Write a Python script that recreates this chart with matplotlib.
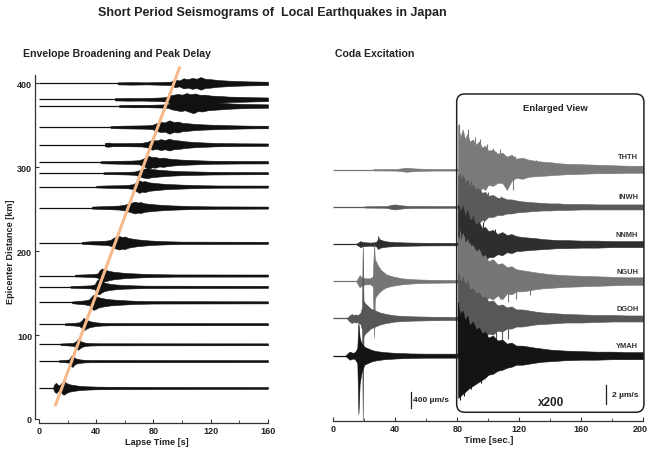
import numpy as np
import matplotlib.pyplot as plt
from matplotlib.patches import FancyBboxPatch
from matplotlib.ticker import MultipleLocator
from matplotlib.transforms import ScaledTranslation

plt.rcParams["font.family"] = ["Liberation Sans", "DejaVu Sans"]
plt.rcParams["font.weight"] = "bold"

W, H = 649, 452  # figure size in px

# ---------------- left panel: envelope broadening ----------------
dist_km = [400, 381, 373, 348, 327, 306, 293, 277, 252, 210,
           171, 157.5, 139, 113, 89, 69, 37]
# envelope knots (lapse time [s], half amplitude [km])
env_t = [
    [55, 65, 75, 85, 92, 95, 98, 101, 104, 107, 110, 113, 116, 120, 125, 130, 138, 146, 153, 160],
    [53, 62, 72, 82, 88, 91, 94, 97, 100, 103, 106, 109, 112, 116, 120, 126, 133, 140, 150, 160],
    [56, 65, 75, 85, 90, 93, 96, 99, 102, 105, 108, 111, 114, 118, 122, 128, 135, 142, 150, 160],
    [50, 58, 66, 74, 79, 82, 85, 88, 91, 94, 97, 100, 104, 108, 114, 120, 128, 136, 148, 160],
    [46, 48, 52, 58, 66, 72, 76, 79, 82, 85, 88, 91, 94, 98, 102, 108, 115, 124, 140, 160],
    [43, 50, 58, 65, 70, 73, 75, 77, 79, 81, 84, 87, 90, 94, 99, 105, 112, 120, 140, 160],
    [45, 55, 62, 67, 70, 72, 74, 76, 78, 81, 84, 88, 92, 97, 103, 110, 120, 135, 160],
    [40, 48, 56, 62, 66, 68, 70, 72, 74, 77, 80, 84, 88, 93, 99, 106, 114, 125, 160],
    [37, 44, 50, 56, 60, 63, 65, 67, 69, 71, 74, 77, 81, 86, 92, 99, 108, 120, 160],
    [30, 36, 42, 47, 50, 52, 54, 56, 58, 60, 62, 65, 68, 72, 77, 83, 90, 100, 160],
    [25, 32, 38, 41, 42.5, 44, 45.5, 47, 49, 52, 56, 61, 67, 74, 82, 95, 160],
    [22, 30, 36, 39, 40.5, 42, 43.5, 45, 47, 50, 54, 59, 66, 75, 160],
    [23, 28, 32, 35, 36.5, 38, 39.5, 41, 43, 46, 50, 55, 61, 68, 80, 160],
    [18, 24, 28, 30, 31, 32, 33.5, 35, 37, 40, 44, 50, 160],
    [15, 20, 24, 26, 27, 28, 29.5, 31, 33, 36, 42, 160],
    [14, 18, 21, 22.5, 23.5, 24.5, 26, 28, 31, 36, 160],
    [10, 11, 12, 13, 14, 15, 16, 17, 18, 19, 21, 24, 28, 33, 40, 50, 90, 160],
]
env_a = [
    [1.2, 1.5, 1.2, 1.6, 2.0, 4.5, 3.5, 6.0, 5.0, 6.5, 5.5, 7.5, 5.5, 5.0, 4.0, 3.5, 2.8, 2.4, 2.2, 2.0],
    [1.3, 1.6, 1.5, 2.0, 2.5, 4.5, 5.5, 6.5, 5.5, 7.5, 6.0, 7.0, 5.5, 5.5, 4.5, 4.0, 3.2, 3.0, 2.5, 2.2],
    [1.2, 1.5, 1.4, 1.8, 2.2, 4.0, 5.0, 6.0, 5.0, 7.0, 8.5, 6.0, 6.5, 5.0, 4.5, 3.8, 3.0, 2.6, 2.3, 2.0],
    [1.2, 1.6, 1.8, 2.0, 2.5, 4.5, 6.0, 5.5, 8.0, 6.0, 6.5, 5.0, 4.5, 3.8, 3.2, 2.8, 2.4, 2.0, 1.6, 1.5],
    [2.0, 2.5, 1.8, 1.8, 2.0, 2.2, 3.5, 6.0, 5.0, 6.5, 5.5, 7.0, 5.5, 5.0, 4.0, 3.2, 2.6, 2.0, 1.6, 1.4],
    [1.2, 1.5, 1.8, 2.0, 2.5, 4.5, 6.5, 7.5, 6.0, 6.5, 5.0, 5.5, 4.5, 3.8, 3.2, 2.8, 2.3, 1.8, 1.5, 1.4],
    [1.0, 1.3, 1.6, 2.0, 3.5, 5.0, 5.5, 6.0, 5.0, 4.5, 4.0, 3.5, 3.0, 2.6, 2.2, 2.0, 1.6, 1.4, 1.2],
    [1.0, 1.4, 1.6, 2.0, 3.0, 5.5, 7.5, 6.0, 6.5, 5.0, 4.5, 3.8, 3.2, 2.8, 2.4, 2.0, 1.6, 1.3, 1.2],
    [1.2, 1.6, 2.0, 2.4, 3.5, 5.0, 6.0, 7.0, 6.0, 6.5, 5.0, 4.5, 3.8, 3.2, 2.6, 2.2, 1.8, 1.4, 1.2],
    [1.2, 1.8, 2.2, 2.6, 3.5, 6.0, 7.0, 8.0, 7.0, 7.5, 6.0, 5.0, 4.2, 3.5, 2.8, 2.2, 1.8, 1.4, 1.2],
    [1.0, 1.4, 1.8, 2.5, 6.5, 8.5, 7.0, 6.5, 5.5, 4.5, 3.8, 3.0, 2.5, 2.0, 1.6, 1.3, 1.2],
    [1.0, 1.4, 1.8, 3.0, 8.0, 9.0, 7.0, 5.5, 4.5, 3.5, 2.8, 2.2, 1.8, 1.4, 1.2],
    [1.0, 1.8, 2.4, 3.5, 6.5, 9.0, 8.0, 6.5, 5.5, 4.5, 3.6, 3.0, 2.4, 1.8, 1.4, 1.2],
    [1.0, 1.5, 2.2, 4.5, 7.5, 6.5, 5.0, 3.8, 3.0, 2.2, 1.6, 1.3, 1.2],
    [1.0, 1.3, 1.8, 4.0, 6.5, 5.5, 3.5, 2.5, 1.8, 1.4, 1.2, 1.1],
    [1.0, 1.3, 2.0, 6.0, 7.0, 4.5, 3.0, 2.2, 1.6, 1.3, 1.1],
    [1.5, 5.0, 6.0, 4.0, 3.0, 4.5, 6.5, 8.0, 7.5, 6.0, 4.5, 3.5, 2.6, 2.0, 1.6, 1.4, 1.2, 1.0],
]
# peak-delay trend line
fit_t = [11.2, 98.5]
fit_km = [15, 420]

# ---------------- right panel: coda excitation ----------------
stations = ["THTH", "INWH", "NNMH", "NGUH", "DGOH", "YMAH"]
offsets = [185, 148, 111, 74, 37, 0]
st_colors = ["#7a7a7a", "#5a5a5a", "#2e2e2e", "#767676", "#575757", "#141414"]

# raw part (0-80 s)
near_t = [
    [26, 40, 43, 45, 47, 49, 51, 54, 58, 64, 80],
    [20, 34, 36, 38, 40, 42, 44, 47, 52, 80],
    [15, 16.5, 17.5, 19, 24, 27.5, 28.5, 29, 29.5, 30.5, 32, 35, 40, 48, 60, 80],
    [15, 16, 17, 18, 19, 21, 24, 25.5, 26.3, 26.8, 27.5, 29, 31, 34, 38, 44, 52, 62, 80],
    [9, 10.5, 11.9, 13, 14.5, 16, 17.5, 18.5, 19, 19.5, 20.5, 22, 24, 27, 30, 34, 40, 50, 62, 80],
    [8, 9.5, 10.5, 11.5, 12.5, 14, 15.5, 16.2, 17, 18, 19, 20, 22, 25, 28, 33, 40, 50, 60, 80],
]
near_up = [
    [0.6, 0.8, 1.2, 1.6, 2.0, 1.8, 1.5, 1.2, 1.0, 0.8, 0.8],
    [0.6, 0.8, 1.5, 2.2, 2.5, 2.0, 1.6, 1.2, 0.9, 0.8],
    [0.6, 2, 3, 2, 1.5, 2, 4, 8, 5, 4.5, 3.5, 2.6, 2, 1.6, 1.3, 1.2],
    [0.6, 3.5, 6, 4.5, 3.5, 3, 3, 5, 37, 22, 20, 15, 11, 7, 5, 3, 2, 1.5, 1.2],
    [0.6, 3, 4.5, 3.5, 4, 3.5, 5.5, 11, 74, 18, 15, 13, 10, 8, 6, 4.5, 3, 2.2, 1.8, 1.5],
    [0.6, 2.5, 4, 3.5, 2.8, 3.5, 7.5, 33, 18, 13, 11, 9, 7.5, 5.5, 4.5, 3.5, 2.8, 2.2, 2, 2],
]
near_dn = [
    [0.6, 0.8, 1.2, 1.6, 2.0, 1.8, 1.5, 1.2, 1.0, 0.8, 0.8],
    [0.6, 0.8, 1.5, 2.2, 2.5, 2.0, 1.6, 1.2, 0.9, 0.8],
    [0.6, 2, 3, 2, 1.5, 2, 4, 5, 4, 3.5, 3, 2.4, 2, 1.6, 1.3, 1.2],
    [0.6, 3.5, 6, 4.5, 3.5, 3, 3, 5, 56, 18, 15, 12, 9, 6, 4.5, 3, 2, 1.5, 1.2],
    [0.6, 3, 4.5, 3.5, 4, 3.5, 5.5, 11, 103, 18, 15, 13, 10, 8, 6, 4.5, 3, 2.2, 1.8, 1.5],
    [0.6, 2.5, 4, 3.5, 2.8, 3.5, 7.5, 58, 28, 18, 13, 9, 7.5, 5.5, 4.5, 3.5, 2.8, 2.2, 2, 2],
]

# enlarged part (80-200 s, x200)
enl_t = [80.5, 82, 83.5, 85, 86.5, 88, 90, 92, 94, 96, 98, 100, 103, 106, 109,
         112, 115, 118, 122, 126, 130, 135, 140, 145, 150, 160, 170, 180, 190, 200]
enl_up = [
    [45, 32, 40, 30, 36, 28, 30, 25, 28, 22, 24, 19, 20, 16, 17, 13, 15, 11, 12, 10, 9, 8, 7.5, 6.5, 6, 5.5, 5, 4.5, 4, 4],
    [32, 27, 32, 24, 27, 21, 22, 17, 18, 14, 15, 11, 12, 9, 9.5, 7.5, 7.5, 6.5, 5.5, 5, 4.5, 4, 3.5, 3.5, 3, 3, 2.5, 2.5, 2.5, 2.5],
    [40, 32, 38, 27, 34, 24, 26, 20, 22, 16, 17, 13, 14, 10, 12, 9, 10, 8, 7, 6.5, 6, 5, 4.5, 4, 4, 3.5, 3.5, 3, 3, 3],
    [45, 40, 48, 38, 42, 35, 36, 30, 32, 25, 26, 20, 22, 17, 18, 14, 15, 12, 11, 10, 9, 8, 7, 6.5, 6, 5.5, 5, 4.5, 4, 4],
    [45, 36, 42, 33, 38, 29, 30, 25, 26, 21, 22, 17, 18, 13, 14, 11, 12, 9, 9, 8, 7, 6, 5.5, 5, 4.5, 4, 3.5, 3.5, 3, 3],
    [50, 38, 45, 35, 40, 30, 34, 26, 28, 22, 24, 18, 20, 15, 16, 12, 13, 10, 10, 9, 8, 7, 6, 5.5, 5, 4.5, 4, 4, 3.5, 3.5],
]
enl_dn = [
    [38, 30, 34, 26, 30, 24, 26, 21, 24, 18, 20, 15, 16, 13, 13, 20, 11, 8, 9, 7, 6.5, 6, 5.5, 5, 4.5, 4, 3.5, 3.5, 3, 3],
    [36, 28, 32, 25, 26, 20, 21, 16, 16, 13, 13, 10, 10, 8, 8, 6.5, 6.5, 5.5, 5, 4.5, 4, 3.5, 3.5, 3, 3, 2.5, 2.5, 2.5, 2.5, 2.5],
    [45, 35, 40, 30, 35, 26, 26, 21, 22, 16, 18, 13, 13, 10, 11, 8, 9, 7, 6.5, 6, 5.5, 5, 4.5, 4, 4, 3.5, 3.5, 3, 3, 3],
    [40, 35, 40, 30, 35, 28, 30, 22, 26, 20, 22, 16, 18, 14, 18, 12, 13, 10, 10, 9, 8, 7, 6.5, 6, 5.5, 5, 4.5, 4, 3.5, 3.5],
    [40, 32, 38, 30, 34, 26, 28, 23, 26, 24, 20, 15, 16, 12, 13, 10, 10, 8, 8, 7, 6, 5.5, 5, 4.5, 4, 4, 3.5, 3, 3, 3],
    [42, 40, 38, 36, 34, 32, 30, 28, 26, 24, 22, 19, 18, 15, 14, 12, 11, 9, 9, 8, 7, 6, 5.5, 5, 4.5, 4, 4, 3.5, 3.5, 3.5],
]
# single tall spikes inside the enlarged view (time, signed amplitude)
spk_t = [
    [81.2, 83, 87, 91.4, 94.6, 98.9, 103, 107.5, 116, 117.5, 131],
    [81.5, 84.5, 89, 93, 100, 108, 82.5, 86, 91, 97],
    [81, 82.8, 85.5, 90, 96.5, 104, 83.5, 87.5],
    [81.8, 84, 88, 107.5, 113, 118, 127],
    [81, 83, 87.5, 105, 109, 113],
    [80.7, 82.5, 86, 91.5, 97, 81.5, 84, 89, 95.5],
]
spk_a = [
    [46, 38, 41, 33, 31, 26, 22, 21, -20, 14, 10],
    [34, 30, 26, 20, 15, 11, -36, -30, -22, -15],
    [38, 35, 30, 28, 22, 15, -46, -38],
    [50, 45, 38, -18, -21, -18, -14],
    [44, 40, 30, -24, -22, -20],
    [53, 44, 36, 30, 23, -44, -40, -33, -27],
]


def fx(px):
    return px / W


def fy(py):
    return 1 - py / H


fig = plt.figure(figsize=(W / 100, H / 100), dpi=100)

# ---- left axes ----
axL = fig.add_axes([fx(39), fy(420), 229 / W, 344 / H])
axL.set_xlim(0, 160)
axL.set_ylim(0, 410)
for d, t, a in zip(dist_km, env_t, env_a):
    t = np.asarray(t, float)
    a = np.asarray(a, float)
    axL.plot([0, 160], [d, d], color="#111111", lw=0.9, solid_capstyle="butt")
    axL.fill_between(t, d - a, d + a, color="#111111", lw=0.4)
axL.plot(fit_t, fit_km, color="#f7b88a", lw=2.2, clip_on=False, zorder=5,
         solid_capstyle="butt")

for s in ["top", "right"]:
    axL.spines[s].set_visible(False)
axL.spines["left"].set_position(("outward", 3))
axL.spines["bottom"].set_position(("outward", 3))
for s in ["left", "bottom"]:
    axL.spines[s].set_color("#333333")
    axL.spines[s].set_linewidth(0.9)
axL.set_xticks([0, 40, 80, 120, 160])
axL.xaxis.set_minor_locator(MultipleLocator(20))
axL.set_yticks([0, 100, 200, 300, 400])
axL.tick_params(direction="in", length=3, width=0.8, labelsize=6.5, pad=2,
                colors="#333333", labelcolor="#222222")
axL.tick_params(which="minor", direction="in", length=2, width=0.6, colors="#333333")

# ---- right axes ----
axR = fig.add_axes([fx(333.3), fy(422.3), 310 / W, (270 + 65.3) * 1.005 / H])
axR.set_xlim(0, 200)
axR.set_ylim(-65.3, 270)
z = 2
for i, name in enumerate(stations):
    off = offsets[i]
    c = st_colors[i]
    axR.plot([0, 200], [off, off], color=c, lw=0.9, solid_capstyle="butt", zorder=z)
    t = np.asarray(near_t[i], float)
    axR.fill_between(t, off - np.asarray(near_dn[i]), off + np.asarray(near_up[i]),
                     color=c, lw=0.4, zorder=z)
    t = np.asarray(enl_t, float)
    axR.fill_between(t, off - np.asarray(enl_dn[i]), off + np.asarray(enl_up[i]),
                     color=c, lw=0.4, zorder=z)
    axR.vlines(spk_t[i], off, off + np.asarray(spk_a[i], float), color=c,
               lw=0.8, zorder=z)
    axR.text(196.8, off + (13 if i == 0 else 10), name, ha="right", va="center",
             fontsize=5.4, color="#333333", zorder=10)
    z += 1

box = FancyBboxPatch((79.6, -56.3), 200.4 - 79.6, 260.4 + 56.3,
                     boxstyle="round,pad=0,rounding_size=5.2",
                     mutation_aspect=1.54, fc="none", ec="#222222", lw=1.1,
                     clip_on=False, zorder=20)
axR.add_patch(box)
axR.text(143.5, 246.5, "Enlarged View", ha="center", va="center", fontsize=6.8,
         color="#222222", zorder=21)
axR.text(140.3, -46.4, "x200", ha="center", va="center", fontsize=8.5,
         color="#222222", zorder=21)
axR.plot([175.7, 175.7], [-29.2, -48.4], color="#222222", lw=0.9, zorder=21)
axR.text(179.6, -38.8, "2 \u00b5m/s", ha="left", va="center", fontsize=6,
         color="#222222", zorder=21)
axR.plot([49.9, 49.9], [-36.1, -52], color="#222222", lw=0.9, zorder=21)
axR.text(51.6, -44, "400 \u00b5m/s", ha="left", va="center", fontsize=6,
         color="#222222", zorder=21)

for s in ["top", "right", "left"]:
    axR.spines[s].set_visible(False)
axR.spines["bottom"].set_color("#333333")
axR.spines["bottom"].set_linewidth(0.9)
axR.set_yticks([])
axR.set_xticks([0, 40, 80, 120, 160, 200])
axR.xaxis.set_minor_locator(MultipleLocator(20))
axR.tick_params(direction="in", length=3, width=0.8, labelsize=6.5, pad=2,
                colors="#333333", labelcolor="#222222")
axR.tick_params(which="minor", direction="in", length=2, width=0.6, colors="#333333")
# keep the last tick label inside the figure
last = axR.get_xticklabels()[-1]
last.set_horizontalalignment("right")
last.set_transform(last.get_transform() + ScaledTranslation(0.045, 0, fig.dpi_scale_trans))

# ---- texts ----
fig.text(fx(272), fy(13.3), "Short Period Seismograms of  Local Earthquakes in Japan",
         ha="center", va="center", fontsize=9, color="#222222")
fig.text(fx(117), fy(54), "Envelope Broadening and Peak Delay", ha="center",
         va="center", fontsize=7.6, color="#222222")
fig.text(fx(375), fy(54), "Coda Excitation", ha="center", va="center",
         fontsize=7.6, color="#222222")
fig.text(fx(156.7), fy(443), "Lapse Time [s]", ha="center", va="center",
         fontsize=6.6, color="#222222")
fig.text(fx(488.7), fy(441), "Time [sec.]", ha="center", va="center",
         fontsize=6.8, color="#222222")
fig.text(fx(11), fy(252), "Epicenter Distance [km]", ha="center", va="center",
         rotation=90, fontsize=6.6, color="#222222")

fig.savefig("out.png", dpi=100)
